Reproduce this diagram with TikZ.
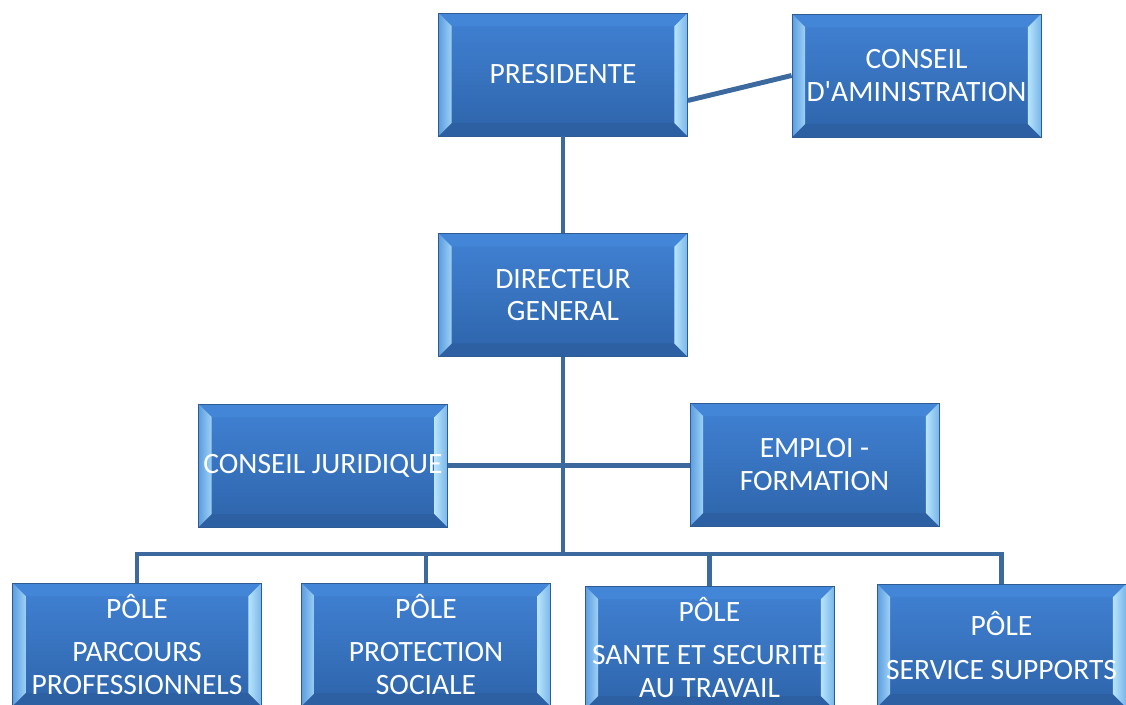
\documentclass[tikz,border=0pt]{standalone}
\usepackage{fontspec}
\setmainfont{Carlito}
\usetikzlibrary{calc}

\definecolor{faceTop}{HTML}{4182D4}
\definecolor{faceBot}{HTML}{2E64AA}
\definecolor{boxEdge}{HTML}{2D5C94}
\definecolor{bevTop}{HTML}{4385D6}
\definecolor{bevBot}{HTML}{2D60A3}
\definecolor{bevLeftOut}{HTML}{5C9DE0}
\definecolor{bevLeftIn}{HTML}{9DD1F6}
\definecolor{bevRightIn}{HTML}{B7E4FB}
\definecolor{bevRightOut}{HTML}{78B6EA}
\definecolor{linkBlue}{HTML}{3C6A9E}

\begin{document}
\begin{tikzpicture}[x=0.02cm, y=-0.02cm,
    orgbox/.style={draw=boxEdge, line width=0.5pt, top color=faceTop, bottom color=faceBot,
      minimum width=4.98cm, minimum height=2.46cm, inner sep=0pt, text=white,
      align=center, font=\fontsize{16.8}{18.5}\selectfont,
      path picture={
        \def\bv{0.26cm}
        \path (path picture bounding box.south west) coordinate (bvSW)
              (path picture bounding box.north east) coordinate (bvNE);
        \coordinate (bviSW) at ([shift={(\bv,\bv)}]bvSW);
        \coordinate (bviNE) at ([shift={(-\bv,-\bv)}]bvNE);
        \fill[bevTop] (bvSW |- bvNE) -- (bvNE) -- (bviNE) -- (bviSW |- bviNE) -- cycle;
        \fill[bevBot] (bvSW) -- (bvSW -| bvNE) -- (bviNE |- bviSW) -- (bviSW) -- cycle;
        \shade[left color=bevLeftOut, right color=bevLeftIn]
          (bvSW) -- (bvSW |- bvNE) -- (bviSW |- bviNE) -- (bviSW) -- cycle;
        \shade[left color=bevRightIn, right color=bevRightOut]
          (bvSW -| bvNE) -- (bvNE) -- (bviNE) -- (bviNE |- bviSW) -- cycle;
      }},
    link/.style={draw=linkBlue, line width=2.8pt}]

  \clip (0,0) rectangle (1126,704);

  % top
  \node[orgbox] (pres) at (563,74.5) {PRESIDENTE};
  \node[orgbox] (ca) at (916.5,75.5) {CONSEIL\\D\textquotesingle AMINISTRATION};
  \node[orgbox] (dg) at (563,295) {DIRECTEUR\\GENERAL};

  % middle
  \node[orgbox] (cj) at (323,465.5) {CONSEIL JURIDIQUE};
  \node[orgbox] (ef) at (814.5,464.5) {EMPLOI -\\FORMATION};

  % poles
  \node[orgbox] (p1) at (137,644.5) {PÔLE\\[6pt]PARCOURS\\PROFESSIONNELS};
  \node[orgbox] (p2) at (426,644.5) {PÔLE\\[6pt]PROTECTION\\SOCIALE};
  \node[orgbox] (p3) at (709.5,647.5) {PÔLE\\[6pt]SANTE ET SECURITE\\AU TRAVAIL};
  \node[orgbox] (p4) at (1001.5,645.5) {PÔLE\\[6pt]SERVICE SUPPORTS};

  \coordinate (bus) at (563,554);

  \draw[link] (pres.south) -- (dg.north);
  \draw[link] ([yshift=-0.52cm]pres.east) -- (ca.west);
  \draw[link] (dg.south) -- (bus);
  \draw[link] (cj.east) -- (cj.east -| ef.west);
  \draw[link] (p1.north) |- (bus) -| (p4.north);
  \draw[link] (p2.north) -- (p2.north |- bus);
  \draw[link] (p3.north) -- (p3.north |- bus);
\end{tikzpicture}
\end{document}
